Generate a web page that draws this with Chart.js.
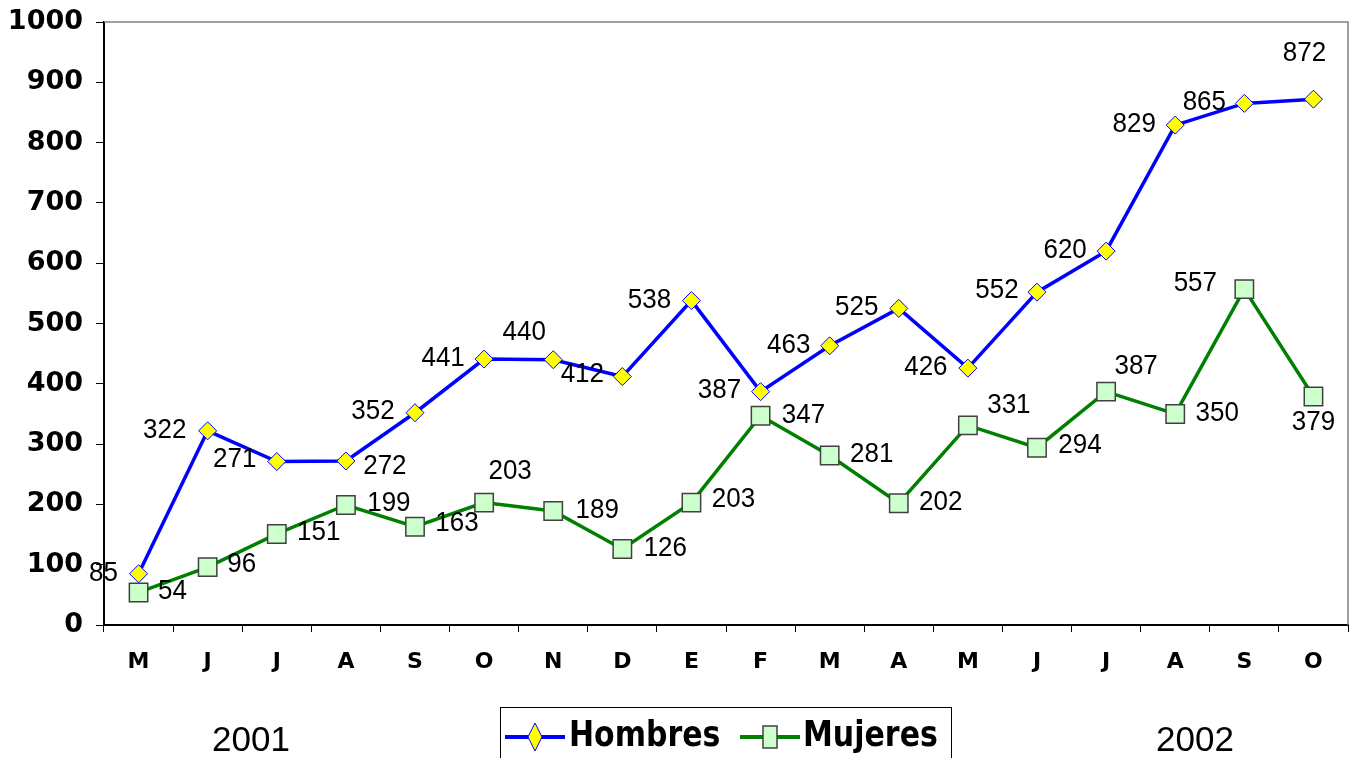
<!DOCTYPE html>
<html>
<head>
<meta charset="utf-8">
<script src="https://cdn.jsdelivr.net/npm/chart.js@4"></script>
<style>
  html, body { margin: 0; padding: 0; background: #fff; }
  #wrap { width: 1351px; height: 758px; }
</style>
</head>
<body>
<div id="wrap"><canvas id="chart" width="1351" height="758"></canvas></div>
<script>
// Months (May 2001 - Oct 2002)
const months = ['M', 'J', 'J', 'A', 'S', 'O', 'N', 'D', 'E', 'F', 'M', 'A', 'M', 'J', 'J', 'A', 'S', 'O'];
const hombres = [85, 322, 271, 272, 352, 441, 440, 412, 538, 387, 463, 525, 426, 552, 620, 829, 865, 872];
const mujeres = [54, 96, 151, 199, 163, 203, 189, 126, 203, 347, 281, 202, 331, 294, 387, 350, 557, 379];
const yearLabels = ['2001', '2002'];

// label offsets from each point (px)
const hombresLabelPos = [[-35, 0], [-43, -1], [-42, -2], [39, 5], [-42, -1], [-41, -1], [-29, -27], [-40, -2], [-42, 0],
  [-41, -1], [-41, -1], [-42, -1], [-42, -1], [-40, -2], [-41, -1], [-41, -1], [-40, -1], [-9, -46]];
const mujeresLabelPos = [[34, -1], [34, -3], [42, -2], [43, -2], [42, -3], [26, -31], [44, -1], [43, -1], [42, -3],
  [43, -1], [42, -1], [42, -1], [41, -20], [43, -2], [30, -25], [42, -1], [-49, -6], [0, 26]];

// text squeezed a bit taller, like the original
function tallText(ctx, txt, x, y, sy) {
  ctx.save();
  ctx.translate(x, y);
  ctx.scale(1, sy);
  ctx.fillText(txt, 0, 0);
  ctx.restore();
}

const extras = {
  id: 'extras',
  afterDatasetsDraw(chart) {
    const ctx = chart.ctx;
    const area = chart.chartArea;
    ctx.save();

    // grey frame top / right
    ctx.strokeStyle = '#808080';
    ctx.lineWidth = 1.5;
    ctx.beginPath();
    ctx.moveTo(area.left, area.top);
    ctx.lineTo(area.right, area.top);
    ctx.lineTo(area.right, area.bottom);
    ctx.stroke();

    // data labels
    ctx.fillStyle = '#000';
    ctx.font = '26px "Liberation Sans", Arial, sans-serif';
    ctx.textAlign = 'center';
    ctx.textBaseline = 'middle';
    const offs = [hombresLabelPos, mujeresLabelPos];
    chart.data.datasets.forEach((ds, di) => {
      chart.getDatasetMeta(di).data.forEach((pt, i) => {
        const o = offs[di][i];
        tallText(ctx, String(ds.data[i]), pt.x + o[0], pt.y + o[1], 1.08);
      });
    });

    // year labels
    ctx.font = '35px "Liberation Sans", Arial, sans-serif';
    ctx.fillText(yearLabels[0], 251, 741);
    ctx.fillText(yearLabels[1], 1195, 741);

    // legend
    ctx.strokeStyle = '#000';
    ctx.lineWidth = 1;
    ctx.strokeRect(500.5, 707.5, 451, 60);
    const ly = 737;
    // Hombres
    ctx.strokeStyle = '#0000FF';
    ctx.lineWidth = 4;
    ctx.beginPath(); ctx.moveTo(505, ly); ctx.lineTo(565, ly); ctx.stroke();
    ctx.fillStyle = '#FFFF00';
    ctx.strokeStyle = '#0000FF';
    ctx.lineWidth = 1;
    ctx.beginPath();
    ctx.moveTo(535, ly - 14); ctx.lineTo(542, ly); ctx.lineTo(535, ly + 14); ctx.lineTo(528, ly);
    ctx.closePath(); ctx.fill(); ctx.stroke();
    // Mujeres
    ctx.strokeStyle = '#008000';
    ctx.lineWidth = 4;
    ctx.beginPath(); ctx.moveTo(740, ly); ctx.lineTo(800, ly); ctx.stroke();
    ctx.fillStyle = '#CCFFCC';
    ctx.strokeStyle = '#404040';
    ctx.lineWidth = 1.5;
    ctx.fillRect(763, ly - 11, 14, 22);
    ctx.strokeRect(763, ly - 11, 14, 22);

    ctx.fillStyle = '#000';
    ctx.font = 'bold 30px "DejaVu Sans", Verdana, sans-serif';
    ctx.textAlign = 'left';
    tallText(ctx, chart.data.datasets[0].label, 569, ly, 1.2);
    tallText(ctx, chart.data.datasets[1].label, 803, ly, 1.2);

    ctx.restore();
  }
};

new Chart(document.getElementById('chart'), {
  type: 'line',
  data: {
    labels: months,
    datasets: [
      {
        label: 'Hombres',
        data: hombres,
        borderColor: '#0000FF',
        borderWidth: 3.5,
        tension: 0,
        pointStyle: 'rectRot',
        pointRadius: 9,
        pointHoverRadius: 9,
        pointBackgroundColor: '#FFFF00',
        pointBorderColor: '#0000FF',
        pointBorderWidth: 1
      },
      {
        label: 'Mujeres',
        data: mujeres,
        borderColor: '#008000',
        borderWidth: 3.5,
        tension: 0,
        pointStyle: 'rect',
        pointRadius: 13,
        pointHoverRadius: 13,
        pointBackgroundColor: '#CCFFCC',
        pointBorderColor: '#404040',
        pointBorderWidth: 1.5
      }
    ]
  },
  options: {
    responsive: false,
    animation: false,
    layout: { autoPadding: false, padding: { left: 0, top: 22, right: 3, bottom: 0 } },
    plugins: {
      legend: { display: false },
      tooltip: { enabled: false }
    },
    scales: {
      x: {
        offset: true,
        afterFit: (s) => { s.height = 133; s.paddingLeft = 0; s.paddingRight = 0; },
        grid: { offset: true, drawOnChartArea: false, drawTicks: true, tickLength: 7, color: '#000' },
        border: { display: true, color: '#000', width: 2 },
        ticks: {
          color: '#000',
          padding: 17,
          font: { family: '"DejaVu Sans", Verdana, sans-serif', size: 22, weight: 'bold' },
          maxRotation: 0,
          autoSkip: false
        }
      },
      y: {
        min: 0,
        max: 1000,
        afterFit: (s) => { s.width = 104; s.paddingTop = 0; s.paddingBottom = 0; },
        grid: { drawOnChartArea: false, drawTicks: true, tickLength: 8, color: '#000' },
        border: { display: true, color: '#000', width: 2 },
        ticks: {
          stepSize: 100,
          color: '#000',
          padding: 13,
          callback: (v) => String(v),
          font: { family: '"DejaVu Sans", Verdana, sans-serif', size: 27, weight: 'bold' }
        }
      }
    }
  },
  plugins: [extras]
});
</script>
</body>
</html>
